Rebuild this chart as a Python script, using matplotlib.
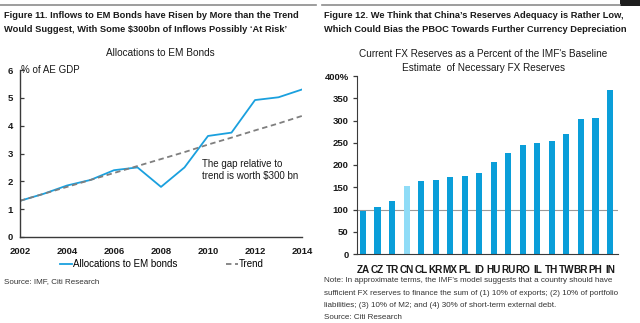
import matplotlib
matplotlib.use("Agg")
import matplotlib.pyplot as plt
from matplotlib import font_manager
from matplotlib.lines import Line2D
from matplotlib.patches import Rectangle

plt.rcParams['font.family'] = ['Liberation Sans', 'DejaVu Sans']

# Figure 11 data: allocations to EM bonds (% of AE GDP)
years = [2002, 2003, 2004, 2005, 2006, 2007, 2008, 2009, 2010, 2011, 2012, 2013, 2014]
allocations = [1.3, 1.55, 1.85, 2.05, 2.4, 2.5, 1.8, 2.5, 3.63, 3.75, 4.92, 5.02, 5.3]
trend = [1.3, 1.55, 1.8, 2.05, 2.3, 2.55, 2.8, 3.05, 3.32, 3.57, 3.83, 4.08, 4.35]
year_ticks = [2002, 2004, 2006, 2008, 2010, 2012, 2014]

# Figure 12 data: FX reserves as % of IMF baseline estimate
countries = ["ZA", "CZ", "TR", "CN", "CL", "KR", "MX", "PL", "ID", "HU", "RU", "RO",
             "IL", "TH", "TW", "BR", "PH", "IN"]
reserves = [97, 105, 120, 153, 164, 167, 172, 175, 181, 207, 228, 246, 249, 254,
            270, 303, 306, 368]
highlight = "CN"

# condensed face for the headings when available
try:
    font_manager.findfont("Liberation Sans Narrow", fallback_to_default=False)
    head_family = ["Liberation Sans Narrow", "DejaVu Sans"]
    head_size = 8.0
    note_size = 6.6
except Exception:
    head_family = ["Liberation Sans", "DejaVu Sans"]
    head_size = 6.7
    note_size = 5.8

W, H = 640, 323
fig = plt.figure(figsize=(W / 100, H / 100), dpi=100)
fig.patch.set_facecolor("white")

def fx(px):
    return px / W

def fy(py):
    return 1 - py / H

txt = "#1a1a1a"
blue = "#1AA0DE"
bar_blue = "#0A9ED9"
light_blue = "#8FDCF7"

# header rules
fig.add_artist(Line2D([fx(0), fx(316)], [fy(5), fy(5)], color="#8c8c8c", lw=1.2))
fig.add_artist(Line2D([fx(322), fx(620)], [fy(5), fy(5)], color="#8c8c8c", lw=1.2))
fig.add_artist(Rectangle((fx(620), fy(6)), fx(20), 6 / H, color="#1e1e1e", lw=0))

# ---------- Figure 11 ----------
fig.text(fx(4), fy(15), "Figure 11. Inflows to EM Bonds have Risen by More than the Trend",
         fontsize=head_size, fontweight="bold", color=txt, va="center", ha="left",
         family=head_family)
fig.text(fx(4), fy(29), "Would Suggest, With Some $300bn of Inflows Possibly \u2018At Risk\u2019",
         fontsize=head_size, fontweight="bold", color=txt, va="center", ha="left",
         family=head_family)
fig.text(fx(160), fy(53), "Allocations to EM Bonds", fontsize=7.2, color=txt,
         va="center", ha="center")

ax1 = fig.add_axes([fx(20), fy(237), fx(282), (237 - 70) / H])
ax1.plot(years, allocations, color=blue, lw=1.3, label="Allocations to EM bonds")
ax1.plot(years, trend, color="#7f7f7f", lw=1.3, ls=(0, (3, 2)), label="Trend")
ax1.set_xlim(2002, 2014)
ax1.set_ylim(0, 6)
ax1.set_xticks(year_ticks)
ax1.set_yticks(range(0, 7))
for s in ["top", "right"]:
    ax1.spines[s].set_visible(False)
for s in ["left", "bottom"]:
    ax1.spines[s].set_color("#3a3a3a")
    ax1.spines[s].set_linewidth(1.0)
ax1.tick_params(axis="x", length=0, pad=7, labelsize=6.8, labelcolor=txt)
ax1.tick_params(axis="y", direction="in", length=3, width=0.9, color="#3a3a3a",
                pad=5, labelsize=6.8, labelcolor=txt)
for lab in ax1.get_xticklabels() + ax1.get_yticklabels():
    lab.set_fontweight("bold")
ax1.text(0.005, 1.0, "% of AE GDP", transform=ax1.transAxes, fontsize=7,
         color=txt, va="center", ha="left")
ax1.text(fx(202), fy(170), "The gap relative to\ntrend is worth $300 bn",
         transform=fig.transFigure, fontsize=7.0, color=txt, va="center", ha="left",
         linespacing=1.2)
ax1.legend(ncol=2, frameon=False, loc="center left",
           bbox_to_anchor=(fx(60), fy(264)), bbox_transform=fig.transFigure,
           fontsize=7, handlelength=1.25, handletextpad=0.1, columnspacing=5.0,
           borderaxespad=0, borderpad=0)
fig.text(fx(4), fy(282), "Source: IMF, Citi Research", fontsize=note_size, color="#333333",
         va="center", ha="left", family=head_family)

# ---------- Figure 12 ----------
fig.text(fx(324), fy(15), "Figure 12. We Think that China\u2019s Reserves Adequacy is Rather Low,",
         fontsize=head_size, fontweight="bold", color=txt, va="center", ha="left",
         family=head_family)
fig.text(fx(324), fy(29), "Which Could Bias the PBOC Towards Further Currency Depreciation",
         fontsize=head_size, fontweight="bold", color=txt, va="center", ha="left",
         family=head_family)
fig.text(fx(483), fy(54), "Current FX Reserves as a Percent of the IMF's Baseline",
         fontsize=7.2, color=txt, va="center", ha="center")
fig.text(fx(483), fy(68), "Estimate  of Necessary FX Reserves",
         fontsize=7.2, color=txt, va="center", ha="center")

ax2 = fig.add_axes([fx(357), fy(254), fx(261), (254 - 76) / H])
xs = list(range(len(countries)))
colors = [light_blue if c == highlight else bar_blue for c in countries]
ax2.bar(xs, reserves, width=0.42, color=colors, zorder=2)
ax2.axhline(100, color="#9a9a9a", lw=0.8, zorder=1)
ax2.set_xlim(-0.41, 17.55)
ax2.set_ylim(0, 400)
ax2.set_yticks(range(0, 401, 50))
ax2.set_yticklabels([str(v) for v in range(0, 400, 50)] + ["400%"])
ax2.set_xticks(xs)
ax2.set_xticklabels(countries)
for s in ["top", "right"]:
    ax2.spines[s].set_visible(False)
ax2.spines["left"].set_color("#3a3a3a")
ax2.spines["bottom"].set_color("#3a3a3a")
ax2.tick_params(axis="x", length=0, pad=8, labelsize=7.2, labelcolor=txt)
ax2.tick_params(axis="y", direction="out", length=3, width=0.9, color="#3a3a3a",
                pad=3, labelsize=6.8, labelcolor=txt)
for lab in ax2.get_xticklabels() + ax2.get_yticklabels():
    lab.set_fontweight("bold")

note_lines = [
    "Note: In approximate terms, the IMF\u2019s model suggests that a country should have",
    "sufficient FX reserves to finance the sum of (1) 10% of exports; (2) 10% of portfolio",
    "liabilities; (3) 10% of M2; and (4) 30% of short-term external debt.",
    "Source: Citi Research",
]
for i, line in enumerate(note_lines):
    fig.text(fx(324), fy(281 + 12.3 * i), line, fontsize=note_size, color="#333333",
             va="center", ha="left", family=head_family)

fig.savefig("out.png", dpi=100, facecolor="white")
